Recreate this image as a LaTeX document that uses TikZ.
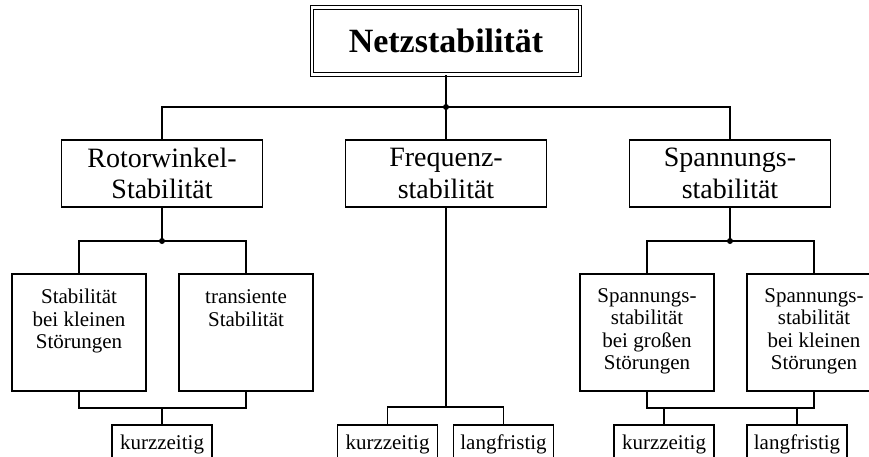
\documentclass[tikz,border=0pt]{standalone}
\usepackage{fontspec}
\setmainfont{Liberation Serif}
\begin{document}
\begin{tikzpicture}[x=1pt,y=-1pt,line width=1.8pt,
  titlebox/.style={draw,double,double distance=2.6pt,line width=1.1pt,minimum width=268pt,minimum height=67pt,inner sep=0pt,font=\fontsize{34}{36}\selectfont\bfseries},
  lvltwo/.style={draw,rectangle,minimum width=201pt,minimum height=67pt,inner sep=0pt,align=center,font=\fontsize{28}{31.5}\selectfont},
  leafbox/.style={draw,rectangle,minimum width=134pt,inner sep=0pt,align=center,anchor=north,font=\fontsize{21}{22.5}\selectfont},
  smallbox/.style={draw,rectangle,minimum width=100pt,inner sep=0pt,anchor=north,text height=25pt,text depth=15pt,font=\fontsize{21}{22.5}\selectfont},
  junction/.style={fill,circle,inner sep=0pt,minimum size=6pt}]
\useasboundingbox (0,0) rectangle (869,456);
\clip (0,0) rectangle (869,456);

\node[titlebox] (net) at (446,41) {Netzstabilität};

\node[lvltwo] (rw) at (162,173.5) {Rotorwinkel-\\Stabilität};
\node[lvltwo] (fr) at (446,173.5) {Frequenz-\\stabilität};
\node[lvltwo] (sp) at (730,173.5) {Spannungs-\\stabilität};

\coordinate (j0) at (446,107);
\draw (net.south) -- (j0);
\draw (rw.north) |- (j0) -| (sp.north);
\draw (j0) -- (fr.north);
\node[junction] at (j0) {};

% Rotorwinkel branch
\node[leafbox,text height=75pt,text depth=42pt] (rs1) at (79,273) {Stabilität\\bei kleinen\\Störungen};
\node[leafbox,text height=52.5pt,text depth=64.5pt] (rs2) at (246,273) {transiente\\Stabilität};
\coordinate (j1) at (162,241);
\draw (rw.south) -- (j1);
\draw (rs1.north) |- (j1) -| (rs2.north);
\node[junction] at (j1) {};
\node[smallbox] (rk) at (162,424) {kurzzeitig};
\coordinate (j2) at (162,408);
\draw (rs1.south) |- (j2) -| (rs2.south);
\draw (j2) -- (rk.north);

% Frequenz branch
\node[smallbox] (fk) at (387.5,424) {kurzzeitig};
\node[smallbox] (fl) at (503.5,424) {langfristig};
\coordinate (j3) at (446,407);
\draw (fr.south) -- (j3);
\draw (fk.north) |- (j3) -| (fl.north);

% Spannungs branch
\node[leafbox,text height=96pt,text depth=21pt] (ss1) at (647,273) {Spannungs-\\stabilität\\bei großen\\Störungen};
\node[leafbox,text height=96pt,text depth=21pt] (ss2) at (814,273) {Spannungs-\\stabilität\\bei kleinen\\Störungen};
\coordinate (j4) at (730,241);
\draw (sp.south) -- (j4);
\draw (ss1.north) |- (j4) -| (ss2.north);
\node[junction] at (j4) {};
\node[smallbox] (sk) at (664,424) {kurzzeitig};
\node[smallbox] (sl) at (797,424) {langfristig};
\coordinate (j5) at (730,408);
\draw (ss1.south) |- (j5) -| (ss2.south);
\draw (sk.north) -- (sk.north |- j5);
\draw (sl.north) -- (sl.north |- j5);
\end{tikzpicture}
\end{document}
